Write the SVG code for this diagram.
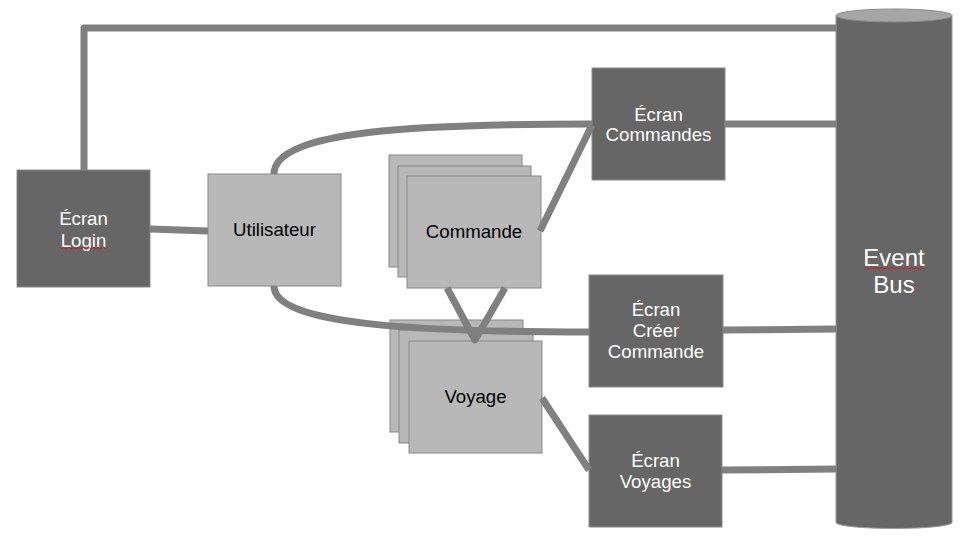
<svg xmlns="http://www.w3.org/2000/svg" width="971" height="543" viewBox="0 0 971 543">
<style>
.dark{fill:#666666;stroke:#8c8c8c;stroke-width:1}
.light{fill:#b8b8b8;stroke:#888888;stroke-width:1}
.conn{fill:none;stroke:#808080;stroke-width:7;stroke-linejoin:round}
.tw{font-family:"Liberation Sans",Arial,sans-serif;font-size:18.67px;fill:#ffffff;text-anchor:middle}
.tb{font-family:"Liberation Sans",Arial,sans-serif;font-size:18.67px;fill:#000000;text-anchor:middle}
.squig{fill:none;stroke:#e01010;stroke-width:1}
</style>
<rect width="971" height="543" fill="#ffffff"/>

<g id="event-bus">
  <rect x="836" y="15.5" width="116" height="507" fill="#666666"/>
  <path d="M836,15.5 V522.5 A58,6 0 0 0 952,522.5 V15.5" fill="#666666" stroke="#999999" stroke-width="1"/>
  <ellipse cx="894" cy="15.5" rx="58" ry="6.5" fill="#a6a6a6" stroke="#8c8c8c" stroke-width="1"/>
  <text x="894" y="266" font-family="'Liberation Sans',Arial,sans-serif" font-size="24" fill="#ffffff" text-anchor="middle">Event</text>
  <text x="894" y="293" font-family="'Liberation Sans',Arial,sans-serif" font-size="24" fill="#ffffff" text-anchor="middle">Bus</text>
  <path class="squig" d="M864,269 l2.5,-1.5 2.5,1.5 2.5,-1.5 2.5,1.5 2.5,-1.5 2.5,1.5 2.5,-1.5 2.5,1.5 2.5,-1.5 2.5,1.5 2.5,-1.5 2.5,1.5 2.5,-1.5 2.5,1.5 2.5,-1.5 2.5,1.5 2.5,-1.5 2.5,1.5 2.5,-1.5 2.5,1.5 2.5,-1.5 2.5,1.5 2.5,-1.5 2.5,1.5"/>
</g>

<g id="ecran-login">
  <rect class="dark" x="17" y="170" width="133" height="117"/>
  <text class="tw" x="83.5" y="225">Écran</text>
  <text class="tw" x="83.5" y="246.5">Login</text>
  <path class="squig" d="M61,249 l2.5,-1.5 2.5,1.5 2.5,-1.5 2.5,1.5 2.5,-1.5 2.5,1.5 2.5,-1.5 2.5,1.5 2.5,-1.5 2.5,1.5 2.5,-1.5 2.5,1.5 2.5,-1.5 2.5,1.5 2.5,-1.5 2.5,1.5 2.5,-1.5 2.5,1.5"/>
</g>

<g id="utilisateur">
  <rect class="light" x="208" y="174" width="133" height="112"/>
  <text class="tb" x="274.5" y="236">Utilisateur</text>
</g>

<g id="commande">
  <rect class="light" x="389" y="155" width="133" height="112"/>
  <rect class="light" x="398" y="166" width="133" height="111"/>
  <rect class="light" x="407" y="176" width="134" height="112"/>
  <text class="tb" x="474" y="238">Commande</text>
</g>

<g id="voyage">
  <rect class="light" x="390" y="320" width="133" height="112"/>
  <rect class="light" x="399" y="330" width="134" height="113"/>
  <rect class="light" x="409" y="341" width="133" height="112"/>
  <text class="tb" x="475.5" y="403">Voyage</text>
</g>

<g id="ecran-commandes">
  <rect class="dark" x="592" y="68" width="133" height="112"/>
  <text class="tw" x="658.5" y="120.5">Écran</text>
  <text class="tw" x="658.5" y="141">Commandes</text>
</g>

<g id="ecran-creer-commande">
  <rect class="dark" x="589" y="275" width="134" height="112"/>
  <text class="tw" x="656" y="316">Écran</text>
  <text class="tw" x="656" y="337">Créer</text>
  <text class="tw" x="656" y="358">Commande</text>
</g>

<g id="ecran-voyages">
  <rect class="dark" x="589" y="415" width="133" height="112"/>
  <text class="tw" x="655.5" y="467">Écran</text>
  <text class="tw" x="655.5" y="487.5">Voyages</text>
</g>

<g id="connectors">
  <path class="conn" d="M84,170 V28 H836"/>
  <path class="conn" d="M150,229 L208,231"/>
  <path class="conn" d="M274,174 C274,130 420,124 592,124"/>
  <path class="conn" d="M274,286 C274,325 420,332 589,332"/>
  <path class="conn" d="M540,231 L592,125"/>
  <path class="conn" d="M447,288 L475,340 L505,288"/>
  <path class="conn" d="M542,398 L589,470"/>
  <path class="conn" d="M725,124 H836"/>
  <path class="conn" d="M723,330 L836,329"/>
  <path class="conn" d="M722,470 L836,469"/>
</g>
</svg>
